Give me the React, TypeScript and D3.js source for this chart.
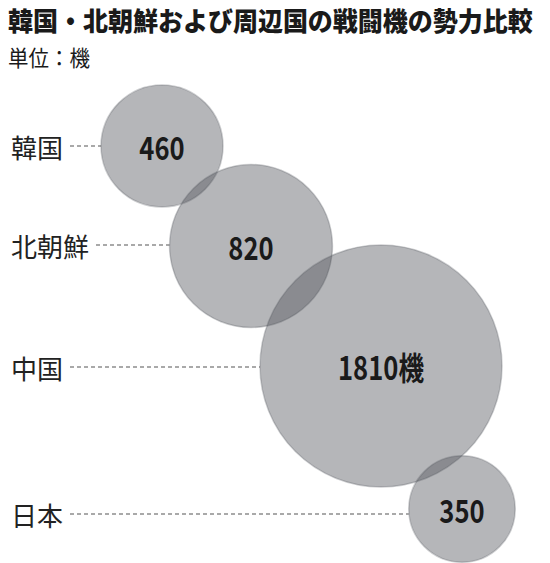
import React, { useEffect, useRef } from 'react';
import * as d3 from 'd3';

// data
const countries = ['韓国', '北朝鮮', '中国', '日本'];
const fighters = [460, 820, 1810, 350];
const valueLabels = ['460', '820', '1810機', '350'];
const title = '韓国・北朝鮮および周辺国の戦闘機の勢力比較';
const unitNote = '単位：機';

// layout (pixel placement of the bubble chain)
const centerX = [162, 251, 381, 462];
const centerY = [146, 246, 366, 509];
const labelY = [146, 245, 367, 514];

const width = 550;
const height = 563;
const jpFont = '"Noto Sans CJK JP", "Noto Sans", sans-serif';

export default function App() {
  const svgRef = useRef<SVGSVGElement>(null);

  useEffect(() => {
    if (!svgRef.current) return;
    const svg = d3.select(svgRef.current);
    svg.selectAll('*').remove();

    const r = d3.scaleSqrt().domain([0, 1810]).range([0, 121]);
    const labelSize = 26;
    const labelX = 11;

    const rows = countries.map((name, i) => ({
      name,
      value: fighters[i],
      text: valueLabels[i],
      cx: centerX[i],
      cy: centerY[i],
      ly: labelY[i],
    }));

    // title + unit
    svg.append('text')
      .attr('transform', 'translate(8,31) scale(1,1.06)')
      .attr('font-family', jpFont).attr('font-weight', 800)
      .attr('font-size', 25).attr('fill', '#1a1a1a')
      .text(title);
    svg.append('text')
      .attr('transform', 'translate(8,66) scale(1,1.08)')
      .attr('font-family', jpFont).attr('font-weight', 400)
      .attr('font-size', 20.5).attr('fill', '#1a1a1a')
      .text(unitNote);

    // leader lines
    svg.append('g').selectAll('line')
      .data(rows).join('line')
      .attr('x1', d => labelX + d.name.length * labelSize + 7)
      .attr('x2', d => d.cx - r(d.value))
      .attr('y1', d => d.ly).attr('y2', d => d.ly)
      .attr('stroke', '#555').attr('stroke-width', 1.2)
      .attr('stroke-dasharray', '4,3');

    // country labels
    svg.append('g').selectAll('text')
      .data(rows).join('text')
      .attr('x', labelX).attr('y', d => d.ly)
      .attr('dominant-baseline', 'central')
      .attr('font-family', jpFont).attr('font-size', labelSize)
      .attr('fill', '#222')
      .text(d => d.name);

    // bubbles
    svg.append('g').selectAll('circle')
      .data(rows).join('circle')
      .attr('cx', d => d.cx).attr('cy', d => d.cy)
      .attr('r', d => r(d.value))
      .attr('fill', 'rgb(79,81,88)').attr('fill-opacity', 0.42)
      .attr('stroke', 'rgb(79,81,88)').attr('stroke-opacity', 0.28)
      .attr('stroke-width', 1.5);

    // values
    svg.append('g').selectAll('text')
      .data(rows).join('text')
      .attr('transform', d => `translate(${d.cx},${d.cy}) scale(0.8,1)`)
      .attr('text-anchor', 'middle')
      .attr('dominant-baseline', 'central')
      .attr('font-family', jpFont).attr('font-weight', 700)
      .attr('font-size', 32).attr('fill', '#1a1a1a')
      .text(d => d.text);
  }, []);

  return (
    <svg
      ref={svgRef}
      width={width}
      height={height}
      style={{ position: 'absolute', left: 0, top: 0, background: '#fff' }}
    />
  );
}
